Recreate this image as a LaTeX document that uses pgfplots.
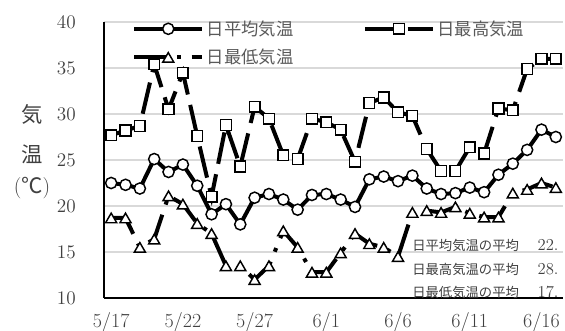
\documentclass[border=0pt]{standalone}
\usepackage{fontspec}
\usepackage{pgfplots}
\usepackage{pgfplotstable}
\pgfplotsset{compat=1.18}
\newfontfamily\jp{Noto Sans CJK JP}
\definecolor{gridgray}{HTML}{D9D9D9}
\definecolor{legendgray}{HTML}{595959}
\definecolor{tickgray}{HTML}{404040}

% daily temperatures, 5/17 (day 0) to 6/17 (day 31)
\pgfplotstableread{
day tmean tmax tmin
0  22.5 27.7 18.7
1  22.3 28.2 18.7
2  21.9 28.7 15.5
3  25.1 35.4 16.4
4  23.7 30.5 21.1
5  24.5 34.5 20.2
6  22.2 27.6 18.1
7  19.1 21.0 17.0
8  20.2 28.8 13.5
9  18.0 24.3 13.5
10 20.9 30.8 12.0
11 21.3 29.5 13.5
12 20.7 25.5 17.3
13 19.6 25.1 15.5
14 21.2 29.5 12.8
15 21.3 29.1 12.8
16 20.7 28.3 14.9
17 19.9 24.8 17.0
18 22.9 31.2 15.9
19 23.2 31.8 15.5
20 22.7 30.2 14.5
21 23.3 29.8 19.3
22 21.9 26.2 19.5
23 21.3 23.8 19.3
24 21.4 23.8 19.9
25 22.0 26.4 19.2
26 21.5 25.7 18.8
27 23.4 30.6 18.8
28 24.6 30.4 21.4
29 26.1 34.9 21.8
30 28.3 36.0 22.5
31 27.5 36.0 22.0
}\weather

\begin{document}
\begin{tikzpicture}
\path[use as bounding box] (0pt,0pt) rectangle (423.75pt,248.25pt);
\begin{axis}[
  at={(78pt,24.75pt)}, anchor=south west,
  scale only axis, width=344.25pt, height=207pt,
  xmin=-0.5, xmax=31.5, ymin=10, ymax=40,
  axis lines*=left,
  axis line style={black, line width=1.3pt},
  major tick length=0pt,
  xtick={0,5,10,15,20,25,30},
  xticklabels={5/17,5/22,5/27,6/1,6/6,6/11,6/16},
  ytick={10,15,20,25,30,35,40},
  ymajorgrids,
  grid style={gridgray, line width=0.9pt},
  tick label style={font=\fontsize{15}{18}\selectfont, text=tickgray},
  yticklabel style={anchor=east, inner sep=0pt, xshift=-21pt},
  xticklabel style={anchor=north, inner sep=0pt, yshift=-10.5pt},
  legend columns=2,
  legend cell align=left,
  legend image code/.code={%
    \draw[mark repeat=2,mark phase=2,#1]
      plot coordinates {(0pt,0pt) (25.5pt,0pt) (51pt,0pt)};},
  legend style={draw=none, fill=none, inner sep=0pt,
    at={(axis description cs:0.061,1.016)}, anchor=north west,
    font=\fontsize{13}{15}\selectfont\jp, text=legendgray,
    row sep=5pt,
    /tikz/every even column/.append style={column sep=50pt}},
  every axis plot/.append style={line width=3pt, black},
]
\addplot[solid, mark=*, mark size=4.2pt,
  mark options={solid, fill=white, line width=1.1pt}]
  table[x=day, y=tmean] {\weather};
\addlegendentry{日平均気温}
\addplot[dash pattern=on 24pt off 8pt, mark=square*, mark size=4pt,
  mark options={solid, fill=white, line width=1.1pt}]
  table[x=day, y=tmax] {\weather};
\addlegendentry{日最高気温}
\addplot[dash pattern=on 24pt off 8pt on 3pt off 8pt, mark=triangle*, mark size=4.8pt,
  mark options={solid, fill=white, line width=1.1pt, yshift=-1.2pt}]
  table[x=day, y=tmin] {\weather};
\addlegendentry{日最低気温}
\end{axis}

% vertical axis title
\begin{scope}[font=\fontsize{16}{18}\selectfont, text=tickgray]
  \node at (24pt,162.75pt) {\jp 気};
  \node at (24pt,132.75pt) {\jp 温};
  \node at (24pt,107.25pt) {({\jp ℃})};
\end{scope}

% monthly averages
\begin{scope}[font=\fontsize{10}{12}\selectfont, text=tickgray, inner sep=0pt]
  \node[anchor=west] at (309pt,64.5pt)  {\jp 日平均気温の平均};
  \node[anchor=west] at (309pt,46.5pt)  {\jp 日最高気温の平均};
  \node[anchor=west] at (309pt,29.25pt) {\jp 日最低気温の平均};
  \node[anchor=west] at (403pt,64.5pt)  {\fontsize{12.5}{14}\selectfont 22.};
  \node[anchor=west] at (403pt,46.5pt)  {\fontsize{12.5}{14}\selectfont 28.};
  \node[anchor=west] at (403pt,29.25pt) {\fontsize{12.5}{14}\selectfont 17.};
\end{scope}
\end{tikzpicture}
\end{document}
